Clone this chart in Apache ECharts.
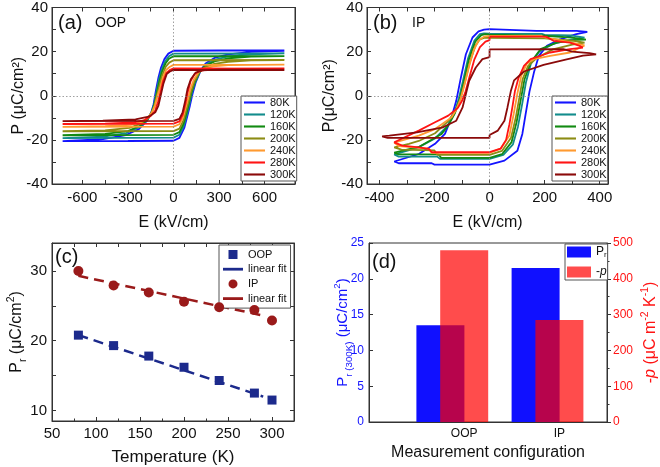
<!DOCTYPE html>
<html>
<head>
<meta charset="utf-8">
<script src="https://cdn.jsdelivr.net/npm/echarts@6/dist/echarts.min.js"></script>
<style>
  html, body { margin: 0; padding: 0; background: #fff; }
  #chart { width: 660px; height: 467px; }
</style>
</head>
<body>
<div id="chart"></div>
<script>
// ---- data ----
const temps = ["80K", "120K", "160K", "200K", "240K", "280K", "300K"];

// (a) OOP loops, [E (kV/cm), P (uC/cm2)]
const oop80 = [[730,20.6],[300,20.5],[0,20.4],[0,19.9],[-34,19.1],[-60,16.6],[-82,12.8],[-99,8.3],[-116,2.3],[-131,-3.8],[-146,-7.5],[-174,-11.3],[-228,-15.1],[-314,-17.8],[-465,-19.7],[-730,-20.6],[-300,-20.5],[0,-20.4],[0,-20.0],[39,-19.1],[71,-14.6],[92,-9.0],[108,-4.5],[125,0.8],[146,6.0],[178,11.3],[211,14.6],[275,17.3],[361,18.8],[512,19.9],[730,20.4]];
const oop120 = [[730,19.2],[0,19.1],[0,18.6],[-30,17.9],[-56,15.5],[-78,11.8],[-96,7.3],[-112,1.8],[-128,-3.9],[-144,-7.5],[-172,-11.0],[-225,-14.3],[-310,-16.9],[-460,-18.5],[-730,-19.2],[0,-19.0],[0,-18.6],[39,-17.7],[68,-13.6],[89,-8.4],[104,-4.0],[120,1.0],[142,6.0],[175,11.0],[210,14.0],[275,16.4],[360,17.8],[510,18.8],[730,19.2]];
const oop160 = [[730,18.0],[0,17.9],[0,17.4],[-30,16.8],[-53,14.6],[-75,11.0],[-93,6.5],[-109,1.4],[-126,-4.0],[-144,-7.5],[-170,-10.6],[-220,-13.6],[-300,-16.0],[-450,-17.3],[-730,-17.9],[0,-17.7],[0,-17.3],[39,-16.5],[66,-12.7],[86,-7.8],[101,-3.6],[117,1.2],[140,6.2],[172,10.8],[208,13.5],[270,15.6],[360,16.9],[510,17.7],[730,18.0]];
const oop200 = [[730,16.2],[0,16.1],[0,15.6],[-28,15.0],[-51,13.2],[-73,9.6],[-90,5.3],[-106,0.9],[-124,-4.2],[-142,-7.5],[-168,-10.2],[-215,-12.6],[-290,-14.6],[-450,-15.7],[-730,-16.1],[0,-16.0],[0,-15.6],[39,-14.9],[64,-11.4],[84,-6.5],[98,-3.0],[114,1.6],[138,6.5],[170,10.6],[205,12.8],[265,14.4],[360,15.4],[510,16.0],[730,16.2]];
const oop240 = [[730,14.0],[0,14.0],[0,13.5],[-26,13.0],[-49,11.7],[-71,8.0],[-87,3.8],[-103,0.5],[-122,-4.4],[-142,-7.5],[-166,-9.9],[-210,-11.9],[-280,-13.2],[-450,-13.8],[-730,-14.1],[0,-14.0],[0,-13.6],[39,-12.9],[62,-9.9],[81,-5.0],[95,-1.5],[111,3.0],[135,7.5],[165,10.8],[200,12.3],[260,13.3],[360,13.9],[730,14.1]];
const oop280 = [[730,12.3],[0,12.4],[0,12.0],[-25,11.6],[-47,10.3],[-69,6.5],[-84,2.0],[-101,-2.5],[-121,-6.8],[-150,-9.2],[-190,-11.0],[-260,-12.1],[-450,-12.6],[-730,-12.8],[0,-12.6],[0,-12.2],[39,-11.6],[61,-8.5],[79,-3.5],[93,1.5],[112,6.5],[140,9.9],[175,11.3],[230,12.0],[400,12.3],[730,12.4]];
const oop300 = [[730,11.6],[0,11.7],[0,11.3],[-24,11.0],[-45,9.8],[-67,5.3],[-82,0.8],[-99,-4.5],[-120,-7.5],[-163,-9.5],[-250,-10.7],[-465,-11.3],[-730,-11.5],[0,-11.4],[0,-11.0],[39,-10.5],[60,-7.5],[77,-2.3],[92,3.0],[114,7.5],[146,10.5],[189,11.5],[297,11.8],[730,11.8]];

// (b) IP loops
const ip80 = [[355,28.9],[316,29.4],[170,29.4],[167,30.1],[0,30.2],[-20,30.0],[-40,29.2],[-62,26.4],[-86,18.8],[-104,8.3],[-121,-2.3],[-138,-9.8],[-162,-17.3],[-198,-21.8],[-257,-26.4],[-346,-29.8],[-330,-30.6],[-210,-30.6],[-200,-31.2],[0,-31.2],[0,-30.9],[54,-29.4],[101,-24.9],[119,-17.3],[130,-9.0],[145,2.0],[161,10.5],[179,18.1],[208,22.6],[256,25.6],[315,27.9],[355,28.9]];
const ip120 = [[345,26.3],[300,27.3],[200,27.6],[190,28.0],[0,28.2],[-20,28.3],[-35,27.9],[-55,25.0],[-78,17.0],[-96,7.0],[-112,-1.5],[-130,-8.5],[-155,-14.0],[-200,-19.5],[-260,-23.5],[-346,-26.6],[-330,-27.6],[-190,-27.6],[-180,-28.6],[0,-28.6],[0,-28.0],[50,-26.8],[85,-22.0],[103,-14.0],[118,-4.0],[132,6.0],[150,14.5],[180,20.0],[230,23.5],[300,25.5],[345,26.3]];
const ip160 = [[350,25.4],[300,26.3],[200,27.2],[0,27.7],[-15,27.9],[-30,27.5],[-52,24.5],[-75,16.5],[-93,6.5],[-108,-1.5],[-126,-8.0],[-150,-13.5],[-174,-17.3],[-257,-23.2],[-346,-25.8],[-330,-26.6],[-185,-26.6],[-175,-28.2],[0,-28.2],[0,-27.6],[45,-26.5],[80,-21.0],[98,-12.0],[113,-2.0],[127,7.5],[149,15.1],[185,21.1],[244,24.1],[315,25.3],[350,25.4]];
const ip200 = [[345,24.1],[300,25.0],[200,26.0],[0,26.3],[-20,26.2],[-35,25.6],[-52,22.5],[-72,15.0],[-90,6.0],[-105,-1.0],[-122,-6.5],[-150,-11.5],[-198,-17.0],[-257,-20.5],[-293,-21.8],[-346,-23.4],[-320,-24.4],[-200,-24.8],[-190,-26.8],[0,-26.8],[0,-26.2],[45,-25.0],[78,-19.0],[95,-10.0],[108,-1.0],[120,7.5],[140,13.5],[170,17.0],[230,21.0],[300,23.2],[345,24.1]];
const ip240 = [[345,22.8],[290,24.3],[200,26.5],[190,27.1],[0,27.1],[-20,26.8],[-40,25.0],[-58,20.5],[-75,13.0],[-92,4.5],[-105,-1.5],[-120,-6.0],[-138,-9.8],[-198,-15.1],[-257,-18.1],[-346,-21.2],[-330,-22.8],[-220,-24.0],[-210,-25.9],[0,-25.9],[0,-25.3],[40,-24.0],[72,-18.0],[88,-8.0],[101,1.0],[115,9.0],[135,14.5],[161,16.6],[220,18.1],[292,19.6],[345,22.8]];
const ip280 = [[339,21.8],[327,22.6],[292,24.1],[232,24.9],[205,26.8],[0,26.8],[0,25.2],[-15,24.5],[-35,22.0],[-55,16.5],[-72,9.0],[-87,2.0],[-100,-2.3],[-115,-5.5],[-150,-9.0],[-198,-12.0],[-257,-15.8],[-346,-21.1],[-317,-22.6],[-257,-23.4],[-221,-24.1],[-210,-25.6],[0,-25.6],[0,-24.9],[40,-24.0],[60,-20.0],[72,-13.0],[83,-5.0],[92,2.0],[105,8.0],[125,13.5],[149,16.6],[220,19.6],[292,21.1],[339,21.8]];
const ip300 = [[387,18.8],[363,19.3],[300,20.0],[268,21.1],[0,21.0],[0,17.5],[-26,16.6],[-50,12.8],[-74,6.8],[-86,0.8],[-98,-5.3],[-121,-11.3],[-169,-14.3],[-264,-16.6],[-364,-18.1],[-390,-18.4],[-370,-19.1],[0,-19.1],[0,-17.8],[30,-15.8],[54,-11.3],[65,-5.3],[77,2.0],[89,7.0],[125,11.0],[196,14.0],[280,16.5],[339,18.2],[387,18.8]];

const oopLoops = [oop80, oop120, oop160, oop200, oop240, oop280, oop300];
const ipLoops = [ip80, ip120, ip160, ip200, ip240, ip280, ip300];

// (c) remanent polarisation vs temperature
const tempK = [80, 120, 160, 200, 240, 280, 300];
const prOOP = [20.8, 19.3, 17.8, 16.2, 14.3, 12.5, 11.5];
const prIP = [30.0, 27.9, 26.9, 25.6, 24.8, 24.4, 22.9];
const fitT = [80, 290];
const oopFit = [20.8, 12.0];
const ipFit = [29.3, 23.6];

// (d) bars
const configs = ["OOP", "IP"];
const pr300 = [13.5, 21.5];
const pyro = [480, 285];

// ---- styling ----
const loopColors = ["#1414ff", "#138c8c", "#128a12", "#8c8c14", "#ff9a30", "#ff1414", "#8b0a0a"];
const font = "'Liberation Sans', Arial, sans-serif";
const frame = "#333";
const navy = "#1c2a8c";
const maroon = "#9a1a1a";
const lineIcon = "path://M0 0H20V2H0Z";

const chart = echarts.init(document.getElementById("chart"));

const grids = [
  { left: 52, top: 7, width: 243, height: 177 },
  { left: 367, top: 7, width: 241, height: 177 },
  { left: 52, top: 243, width: 242, height: 178 },
  { left: 369, top: 243, width: 240, height: 179 },
].map((g) => ({ ...g, show: true, borderColor: frame, borderWidth: 1 }));

const lbl = (size, extra) => ({ fontSize: size, color: "#111", fontFamily: font, ...extra });
const axLine = { onZero: false, lineStyle: { color: frame } };

const mirrorX = (gridIndex, min, max, ticks) => ({
  gridIndex, type: "value", position: "top", min, max,
  axisLine: axLine,
  axisTick: { inside: true, length: 4, lineStyle: { color: frame }, customValues: ticks },
  axisLabel: { show: false }, splitLine: { show: false },
});
const mirrorY = (gridIndex, min, max, ticks) => ({
  gridIndex, type: "value", position: "right", min, max,
  axisLine: { ...axLine, show: true },
  axisTick: { show: true, inside: true, length: 4, lineStyle: { color: frame }, customValues: ticks },
  axisLabel: { show: false }, splitLine: { show: false },
});

const aTicks = [-600, -450, -300, -150, 0, 150, 300, 450, 600];
const bTicks = [-400, -300, -200, -100, 0, 100, 200, 300, 400];
const pTicks = [-40, -30, -20, -10, 0, 10, 20, 30, 40];
const cTicks = [10, 15, 20, 25, 30];

const richName = (size, color) => ({
  a: { fontSize: size, lineHeight: 22, color, fontFamily: font },
  i: { fontSize: size, lineHeight: 22, color, fontFamily: font, fontStyle: "italic" },
  s: { fontSize: size * 0.65, lineHeight: 12, verticalAlign: "bottom", color, fontFamily: font },
  p: { fontSize: size * 0.65, lineHeight: 12, verticalAlign: "top", color, fontFamily: font },
});

const xAxis = [
  // (a)
  {
    gridIndex: 0, type: "value", min: -800, max: 800,
    axisLine: axLine,
    axisTick: { inside: true, length: 4, lineStyle: { color: frame }, customValues: aTicks },
    axisLabel: lbl(15, { margin: 6, customValues: [-600, -300, 0, 300, 600] }),
    splitLine: { show: false },
    name: "E (kV/cm)", nameLocation: "middle", nameGap: 31, nameMoveOverlap: false,
    nameTextStyle: lbl(16),
  },
  mirrorX(0, -800, 800, aTicks),
  // (b)
  {
    gridIndex: 1, type: "value", min: -445, max: 430,
    axisLine: axLine,
    axisTick: { inside: true, length: 4, lineStyle: { color: frame }, customValues: bTicks },
    axisLabel: lbl(15, { margin: 6, customValues: [-400, -200, 0, 200, 400] }),
    splitLine: { show: false },
    name: "E (kV/cm)", nameLocation: "middle", nameGap: 31, nameMoveOverlap: false,
    nameTextStyle: lbl(16),
  },
  mirrorX(1, -445, 430, bTicks),
  // (c)
  {
    gridIndex: 2, type: "value", min: 50, max: 325, interval: 50,
    axisLine: axLine,
    axisTick: { inside: true, length: 4, lineStyle: { color: frame } },
    minorTick: { show: true, splitNumber: 2, length: 2.5, lineStyle: { color: frame } },
    axisLabel: lbl(15, { margin: 5 }),
    splitLine: { show: false },
    name: "Temperature (K)", nameLocation: "middle", nameGap: 28, nameMoveOverlap: false,
    nameTextStyle: lbl(17),
  },
  mirrorX(2, 50, 325, [50, 75, 100, 125, 150, 175, 200, 225, 250, 275, 300]),
  // (d)
  {
    gridIndex: 3, type: "value", min: 0, max: 2.5,
    axisLine: axLine,
    axisTick: { show: false },
    axisLabel: lbl(12, { margin: 6, customValues: [1, 2], formatter: (v) => configs[Math.round(v) - 1] }),
    splitLine: { show: false },
    name: "Measurement configuration", nameLocation: "middle", nameGap: 23, nameMoveOverlap: false,
    nameTextStyle: lbl(16),
  },
  { gridIndex: 3, type: "value", min: 0, max: 2.5, show: false },
];

const yAxis = [
  // (a)
  {
    gridIndex: 0, type: "value", min: -40, max: 40, interval: 20,
    axisLine: { ...axLine, show: true },
    axisTick: { show: true, inside: true, length: 4, lineStyle: { color: frame }, customValues: pTicks },
    axisLabel: lbl(15, { margin: 4 }),
    splitLine: { show: false },
    name: "P (μC/cm²)", nameLocation: "middle", nameGap: 25, nameRotate: 90, nameMoveOverlap: false,
    nameTextStyle: lbl(16),
  },
  mirrorY(0, -40, 40, pTicks),
  // (b)
  {
    gridIndex: 1, type: "value", min: -40, max: 40, interval: 20,
    axisLine: { ...axLine, show: true },
    axisTick: { show: true, inside: true, length: 4, lineStyle: { color: frame }, customValues: pTicks },
    axisLabel: lbl(15, { margin: 4 }),
    splitLine: { show: false },
    name: "P(μC/cm²)", nameLocation: "middle", nameGap: 29, nameRotate: 90, nameMoveOverlap: false,
    nameTextStyle: lbl(16),
  },
  mirrorY(1, -40, 40, pTicks),
  // (c)
  {
    gridIndex: 2, type: "value", min: 8.5, max: 34,
    axisLine: { ...axLine, show: true },
    axisTick: { show: true, inside: true, length: 4, lineStyle: { color: frame }, customValues: cTicks },
    axisLabel: lbl(15, { margin: 5, customValues: [10, 20, 30] }),
    splitLine: { show: false },
    name: "{a|P}{s|r}{a| (μC/cm}{p|2}{a|)}", nameLocation: "middle", nameGap: 24, nameRotate: 90, nameMoveOverlap: false,
    nameTextStyle: { rich: richName(16, "#111") },
  },
  mirrorY(2, 8.5, 34, cTicks),
  // (d) left
  {
    gridIndex: 3, type: "value", min: 0, max: 25, interval: 5,
    axisLine: { ...axLine, show: true },
    axisTick: { show: true, inside: true, length: 4, lineStyle: { color: frame } },
    axisLabel: lbl(12, { margin: 5, color: "#1414ff" }),
    splitLine: { show: false },
    name: "{a|P}{s|r (300K)}{a| (μC/cm}{p|2}{a|)}", nameLocation: "middle", nameGap: 15, nameRotate: 90, nameMoveOverlap: false,
    nameTextStyle: { rich: richName(15, "#1414ff") },
  },
  // (d) right
  {
    gridIndex: 3, type: "value", position: "right", min: 0, max: 500, interval: 100,
    axisLine: { ...axLine, show: true },
    axisTick: { show: true, inside: false, length: 4, lineStyle: { color: frame } },
    minorTick: { show: true, splitNumber: 2, length: 2.5, lineStyle: { color: frame } },
    axisLabel: lbl(12, { margin: 6, color: "#ff1414" }),
    splitLine: { show: false },
    name: "{a|-}{i|p}{a| (μC m}{p|-2}{a| K}{p|-1}{a|)}", nameLocation: "middle", nameGap: 33, nameRotate: 90, nameMoveOverlap: false,
    nameTextStyle: { rich: richName(16, "#ff1414") },
  },
];

const zeroLines = {
  silent: true, symbol: "none", label: { show: false },
  lineStyle: { color: "#888", type: [1.5, 2], width: 0.8 },
  data: [{ xAxis: 0 }, { yAxis: 0 }],
};

const series = [];
oopLoops.forEach((loop, i) => {
  series.push({
    name: temps[i], type: "line", xAxisIndex: 0, yAxisIndex: 0,
    data: loop, symbol: "none", color: loopColors[i],
    lineStyle: { width: 1.8, color: loopColors[i] },
    markLine: i === 0 ? zeroLines : undefined,
  });
});
ipLoops.forEach((loop, i) => {
  series.push({
    name: temps[i], type: "line", xAxisIndex: 2, yAxisIndex: 2,
    data: loop, symbol: "none", color: loopColors[i],
    lineStyle: { width: 1.8, color: loopColors[i] },
    markLine: i === 0 ? zeroLines : undefined,
  });
});

series.push(
  {
    name: "OOP fit", type: "line", xAxisIndex: 4, yAxisIndex: 4, symbol: "none",
    data: fitT.map((t, i) => [t, oopFit[i]]), color: navy,
    lineStyle: { color: navy, width: 2.5, type: [10, 6] },
  },
  {
    name: "IP fit", type: "line", xAxisIndex: 4, yAxisIndex: 4, symbol: "none",
    data: fitT.map((t, i) => [t, ipFit[i]]), color: maroon,
    lineStyle: { color: maroon, width: 2.5, type: [10, 6] },
  },
  {
    name: "OOP", type: "scatter", xAxisIndex: 4, yAxisIndex: 4, symbol: "rect", symbolSize: 9,
    data: tempK.map((t, i) => [t, prOOP[i]]), itemStyle: { color: navy, opacity: 1 }, z: 5,
  },
  {
    name: "IP", type: "scatter", xAxisIndex: 4, yAxisIndex: 4, symbol: "circle", symbolSize: 10,
    data: tempK.map((t, i) => [t, prIP[i]]), itemStyle: { color: maroon, opacity: 1 }, z: 5,
  },
  {
    name: "Pr", type: "bar", xAxisIndex: 6, yAxisIndex: 6, barWidth: 48,
    data: configs.map((c, i) => [i + 1 - 0.25, pr300[i]]),
    itemStyle: { color: "#1010ff" },
  },
  {
    name: "-p", type: "bar", xAxisIndex: 7, yAxisIndex: 7, barWidth: 48,
    data: configs.map((c, i) => [i + 1, pyro[i]]),
    itemStyle: { color: "rgba(255,0,0,0.7)" }, z: 3,
  }
);

const legendBase = {
  orient: "vertical", selectedMode: false, backgroundColor: "#fff",
  borderColor: "#555", borderWidth: 1, borderRadius: 0,
};
const tempLegend = (left) => ({
  ...legendBase, left, top: 96,
  data: temps.map((t) => ({ name: t, icon: lineIcon })),
  itemWidth: 21, itemHeight: 11.3, itemGap: 1, padding: [1, 1, 1, 3],
  textStyle: { fontSize: 11, lineHeight: 11, fontFamily: font, color: "#111" },
});

const option = {
  animation: false,
  backgroundColor: "#fff",
  grid: grids,
  xAxis,
  yAxis,
  series,
  legend: [
    tempLegend(241),
    tempLegend(552),
    {
      ...legendBase, left: 219, top: 245,
      data: [
        { name: "OOP", icon: "path://M0 0H10V10H0Z" },
        { name: "OOP fit", icon: "path://M0 0H18V2.5H0Z" },
        { name: "IP", icon: "circle" },
        { name: "IP fit", icon: "path://M0 0H18V2.5H0Z" },
      ],
      formatter: (n) => (n.endsWith("fit") ? "linear fit" : n),
      itemWidth: 20, itemHeight: 9, itemGap: 3.7, padding: [4, 4, 4, 4],
      textStyle: { fontSize: 11, lineHeight: 9, fontFamily: font, color: "#111" },
    },
    {
      ...legendBase, left: 565, top: 244,
      data: [{ name: "Pr", icon: "rect" }, { name: "-p", icon: "rect" }],
      formatter: (n) => (n === "Pr" ? "{a|P}{s|r}" : "{a|-}{i|p}"),
      itemWidth: 24, itemHeight: 11, itemGap: 7, padding: [2, 1, 2, 2],
      textStyle: {
        fontFamily: font, color: "#111",
        rich: {
          a: { fontSize: 12, lineHeight: 14, fontFamily: font, color: "#111" },
          i: { fontSize: 12, lineHeight: 14, fontFamily: font, color: "#111", fontStyle: "italic" },
          s: { fontSize: 8, lineHeight: 8, verticalAlign: "bottom", fontFamily: font, color: "#111" },
        },
      },
    },
  ],
  graphic: [
    { type: "text", left: 58, top: 13, style: { text: "(a)", font: `20px ${font}`, fill: "#111" } },
    { type: "text", left: 95, top: 16, style: { text: "OOP", font: `14px ${font}`, fill: "#111" } },
    { type: "text", left: 373, top: 13, style: { text: "(b)", font: `20px ${font}`, fill: "#111" } },
    { type: "text", left: 412, top: 16, style: { text: "IP", font: `14px ${font}`, fill: "#111" } },
    { type: "text", left: 55, top: 247, style: { text: "(c)", font: `20px ${font}`, fill: "#111" } },
    { type: "text", left: 372, top: 252, style: { text: "(d)", font: `20px ${font}`, fill: "#111" } },
  ],
};

chart.setOption(option);
</script>
</body>
</html>
